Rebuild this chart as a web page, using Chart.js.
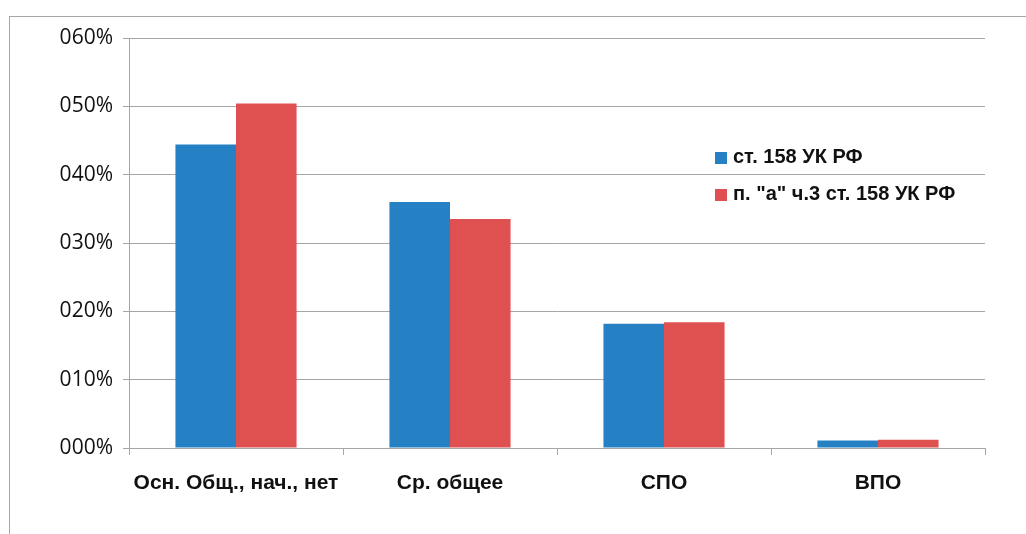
<!DOCTYPE html>
<html>
<head>
<meta charset="utf-8">
<script src="https://cdn.jsdelivr.net/npm/chart.js@4/dist/chart.umd.min.js"></script>
<style>
    body { margin: 0; background: #fff; }
    #frame {
        position: absolute; left: 9px; top: 16px; right: 0; bottom: 0;
        border-left: 1px solid #a6a6a6; border-top: 1px solid #a6a6a6;
    }
    #wrap { position: absolute; left: 0; top: 0; width: 1026px; height: 534px; }
    #legend {
        position: absolute; left: 715px; top: 144px;
        font-family: "Liberation Sans", sans-serif; font-weight: bold; font-size: 20px; color: #111;
    }
    #legend div { height: 37px; line-height: 24px; white-space: nowrap; }
    #legend span.box { display: inline-block; width: 12px; height: 12px; margin-right: 6px; vertical-align: -1px; }
</style>
</head>
<body>
<div id="frame"></div>
<div id="wrap"><canvas id="chart" width="1026" height="534"></canvas></div>
<div id="legend"></div>

<script>
    const categories = ["Осн. Общ., нач., нет", "Ср. общее", "СПО", "ВПО"];
    const seriesNames = ["ст. 158 УК РФ", "п. \"а\" ч.3 ст. 158 УК РФ"];
    const art158 = [44.4, 36.0, 18.2, 1.1];
    const art158a3 = [50.4, 33.5, 18.4, 1.2];
    const yTickLabels = ["000%", "010%", "020%", "030%", "040%", "050%", "060%"];
    const colors = ["#2681c4", "#df5050"];

    const ctx = document.getElementById("chart").getContext("2d");

    const chart = new Chart(ctx, {
        type: "bar",
        data: {
            labels: categories,
            datasets: [
                { label: seriesNames[0], data: art158, backgroundColor: colors[0] },
                { label: seriesNames[1], data: art158a3, backgroundColor: colors[1] }
            ]
        },
        options: {
            responsive: false,
            animation: false,
            layout: { padding: { top: 38, right: 41, left: 0, bottom: 0 } },
            datasets: { bar: { barPercentage: 1, categoryPercentage: 0.566 } },
            plugins: { legend: { display: false }, tooltip: { enabled: false } },
            scales: {
                x: {
                    afterFit: s => { s.height = 86; },
                    grid: { drawOnChartArea: false, color: "#a6a6a6", tickLength: 7 },
                    border: { color: "#a6a6a6" },
                    ticks: {
                        color: "#111", padding: 16,
                        font: { family: "Liberation Sans", weight: "bold", size: 21 }
                    }
                },
                y: {
                    min: 0, max: 60,
                    afterFit: s => { s.width = 129; },
                    grid: { color: "#a6a6a6", tickLength: 6 },
                    border: { color: "#a6a6a6" },
                    ticks: {
                        stepSize: 10, color: "#111", padding: 10,
                        font: { family: "Open Sans", size: 21 },
                        callback: (v, i) => yTickLabels[i]
                    }
                }
            }
        }
    });

    // legend built from the datasets
    const legendDiv = document.getElementById("legend");
    chart.data.datasets.forEach(ds => {
        const row = document.createElement("div");
        row.innerHTML = `<span class="box" style="background:${ds.backgroundColor}"></span>${ds.label}`;
        legendDiv.appendChild(row);
    });
</script>
</body>
</html>
